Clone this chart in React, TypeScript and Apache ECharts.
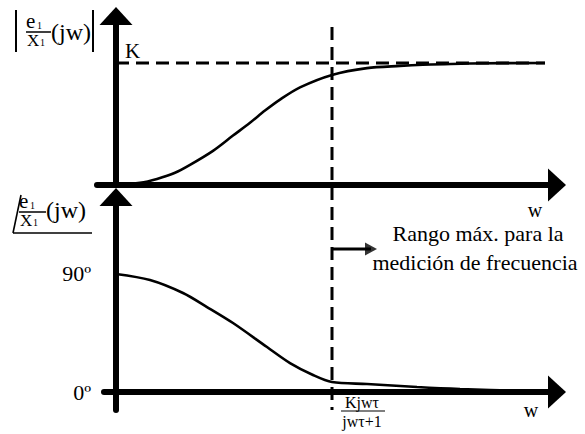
import React, { useEffect, useRef } from "react";
import * as echarts from "echarts";

// Frequency axis positions (w) and the two response curves
const W_MAG = [0, 24, 41, 59, 74, 97, 117, 134, 149, 164, 184, 216, 251, 284, 307, 354, 429];
const MAGNITUDE = [0, 0.018, 0.05, 0.1, 0.165, 0.28, 0.405, 0.51, 0.61, 0.7, 0.8, 0.902, 0.958, 0.976, 0.985, 0.996, 1.0];

const W_PHASE = [0, 34, 67, 91, 117, 151, 174, 197, 216, 251, 301, 344, 414];
const PHASE = [90, 85.4, 75.5, 64.8, 52.6, 34.3, 22.1, 13.0, 7.6, 6.1, 3.8, 2.3, 0.8];

// Reference values
const K_GAIN = 1;
const W_LIMIT = 216;
const PHASE_TICKS = [0, 90];

const SERIF = "Liberation Serif";
const INK = "#000";

const axisLine = {
  show: true,
  onZero: true,
  symbol: ["none", "triangle"],
  symbolSize: [33, 18],
  lineStyle: { color: INK, width: 6 },
};

const hidden = {
  axisTick: { show: false },
  splitLine: { show: false },
};

export default function App() {
  const ref = useRef<HTMLDivElement>(null);

  useEffect(() => {
    if (!ref.current) return;
    const chart = echarts.init(ref.current, null, { renderer: "svg" });

    const txt = (text: string, x: number, y: number, size: number, align = "left", va = "middle") => ({
      type: "text",
      silent: true,
      style: {
        text,
        x,
        y,
        fill: INK,
        font: `${size}px "${SERIF}", serif`,
        fontSize: size,
        fontFamily: SERIF,
        align,
        verticalAlign: va,
        textAlign: align,
        textVerticalAlign: va,
      },
    });
    const seg = (x1: number, y1: number, x2: number, y2: number, w = 1.6) => ({
      type: "line",
      silent: true,
      shape: { x1, y1, x2, y2 },
      style: { stroke: INK, lineWidth: w },
    });

    chart.setOption({
      animation: false,
      backgroundColor: "#fff",
      grid: [
        { left: 97, right: 28, top: 16, bottom: 249 },
        { left: 104, right: 28, top: 197, bottom: 24 },
      ],
      xAxis: [
        { type: "value", gridIndex: 0, min: -19, max: 441, axisLine, axisLabel: { show: false }, ...hidden },
        { type: "value", gridIndex: 1, min: -12, max: 441, axisLine, axisLabel: { show: false }, ...hidden },
      ],
      yAxis: [
        { type: "value", gridIndex: 0, min: 0, max: 1.385, axisLine, axisLabel: { show: false }, ...hidden },
        {
          type: "value",
          gridIndex: 1,
          min: -13.7,
          max: 148.7,
          axisLine,
          axisLabel: {
            show: true,
            customValues: PHASE_TICKS,
            formatter: (v: number) => `${v}º`,
            margin: 13,
            color: INK,
            fontSize: 22,
            fontFamily: SERIF,
          },
          ...hidden,
        },
      ],
      series: [
        {
          type: "line",
          xAxisIndex: 0,
          yAxisIndex: 0,
          data: [
            [0, K_GAIN],
            [429, K_GAIN],
          ],
          symbol: "none",
          lineStyle: { color: INK, width: 3, type: [13, 7] },
          z: 3,
        },
        {
          type: "line",
          xAxisIndex: 0,
          yAxisIndex: 0,
          clip: false,
          data: [
            [W_LIMIT, 1.295],
            [W_LIMIT, -1.844],
          ],
          symbol: "none",
          lineStyle: { color: INK, width: 3, type: [13, 7] },
          z: 3,
        },
        {
          type: "line",
          xAxisIndex: 0,
          yAxisIndex: 0,
          smooth: 0.3,
          data: W_MAG.map((w, i) => [w, MAGNITUDE[i]]),
          symbol: "none",
          lineStyle: { color: INK, width: 2.6 },
          z: 4,
        },
        {
          type: "line",
          xAxisIndex: 1,
          yAxisIndex: 1,
          smooth: 0.3,
          clip: false,
          data: W_PHASE.map((w, i) => [w, PHASE[i]]),
          symbol: "none",
          lineStyle: { color: INK, width: 2.6 },
          z: 4,
        },
        {
          type: "line",
          xAxisIndex: 1,
          yAxisIndex: 1,
          data: [
            [W_LIMIT, 109],
            [255, 109],
          ],
          symbol: "none",
          lineStyle: { color: INK, width: 3 },
          z: 4,
        },
        {
          type: "scatter",
          xAxisIndex: 1,
          yAxisIndex: 1,
          data: [[255, 109]],
          symbol: "triangle",
          symbolSize: [13, 12],
          symbolRotate: -90,
          itemStyle: { color: INK },
          z: 4,
        },
      ],
      graphic: [
        // |e1/X1(jw)|
        seg(16, 10, 16, 52, 2),
        seg(93, 10, 93, 52, 2),
        txt("e", 26, 31, 21, "left", "bottom"),
        txt("1", 37, 30, 10, "left", "bottom"),
        seg(26, 32, 51, 32, 1.5),
        txt("X", 27, 49, 17, "left", "bottom"),
        txt("1", 40, 47, 10, "left", "bottom"),
        txt("(jw)", 51, 32, 24),
        // angle e1/X1(jw)
        seg(13, 233, 21, 195, 1.6),
        seg(13, 233, 92, 233, 1.6),
        txt("e", 19, 211, 21, "left", "bottom"),
        txt("1", 30, 210, 10, "left", "bottom"),
        seg(19, 212, 46, 212, 1.5),
        txt("X", 20, 229, 17, "left", "bottom"),
        txt("1", 33, 227, 10, "left", "bottom"),
        txt("(jw)", 46, 210, 24),
        // axis labels
        txt("K", 125, 51, 21),
        txt("w", 535, 210, 20, "center"),
        txt("w", 531, 410, 20, "center"),
        txt("Rango máx. para la", 478, 233, 22, "center"),
        txt("medición de frecuencia", 475, 262, 22, "center"),
        txt("Kjwτ", 362, 402, 16, "center"),
        seg(341, 411, 385, 411, 1.2),
        txt("jwτ+1", 362, 421, 16, "center"),
      ],
    });

    return () => chart.dispose();
  }, []);

  return <div ref={ref} style={{ width: 585, height: 434, position: "absolute", left: 0, top: 0 }} />;
}
